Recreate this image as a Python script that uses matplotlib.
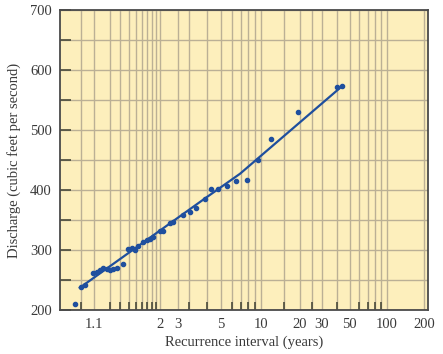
import matplotlib
matplotlib.use('Agg')
import matplotlib.pyplot as plt
import numpy as np

# recurrence interval (years) and discharge (cfs)
interval = [1.034, 1.051, 1.062, 1.096, 1.114, 1.133, 1.154, 1.178, 1.203, 1.231,
            1.266, 1.333, 1.394, 1.440, 1.489, 1.540, 1.626, 1.690, 1.757, 1.830,
            1.990, 2.079, 2.275, 2.380, 2.750, 3.040, 3.339, 3.848, 4.216, 4.778,
            5.497, 6.440, 7.747, 9.506, 11.90, 19.48, 39.5, 43.3]
discharge = [210, 238, 242, 261, 264, 267, 270, 268, 267, 268,
             270, 277, 301, 303, 300, 306, 314, 317, 318, 322,
             331, 332, 345, 346, 358, 364, 370, 385, 401, 402,
             407, 415, 416, 450, 485, 530, 571, 573]

# hand-drawn best fit line
fit_interval = [1.046, 3.848, 6.90, 43.5]
fit_discharge = [237, 386, 427, 573]

grid_intervals = [1.05, 1.1, 1.2, 1.3, 1.4, 1.5, 1.6, 1.7, 1.8, 1.9, 2, 3, 4, 5, 6, 7, 8, 9,
                  10, 15, 20, 25, 30, 40, 50, 60, 70, 80, 90, 100, 200]
label_pos = [1.1, 2, 2.55, 5, 10, 20, 30, 50, 100, 200]
label_txt = ['1.1', '2', '3', '5', '10', '20', '30', '50', '100', '200']


# Gumbel probability paper: reduced variate of the recurrence interval
def fwd(t):
    t = np.clip(np.asarray(t, dtype=float), 1.0001, None)
    return -np.log(-np.log(1 - 1 / t))


def inv(y):
    y = np.asarray(y, dtype=float)
    return 1 / (1 - np.exp(-np.exp(-y)))


plt.rcParams['font.family'] = ['Liberation Serif', 'DejaVu Serif']

fig = plt.figure(figsize=(4.43, 3.54), dpi=100)
ax = fig.add_axes([0.1354, 0.1243, 0.8301, 0.8475])
ax.set_facecolor('#fdefbc')
ax.set_xscale('function', functions=(fwd, inv))
ax.set_xlim(1.011, 213.7)
ax.set_ylim(200, 700)

ax.set_xticks(grid_intervals, minor=True)
ax.set_xticks(label_pos)
ax.set_xticklabels(label_txt)
ax.set_xticklabels([], minor=True)
ax.set_yticks(range(200, 701, 100))
ax.set_yticks(range(250, 700, 100), minor=True)

ax.grid(True, which='both', color='#bbb095', linewidth=1.0)
ax.set_axisbelow(True)

ax.tick_params(axis='x', which='major', length=0, pad=6, labelsize=10.5, colors='#3a3a3a')
ax.tick_params(axis='x', which='minor', direction='in', length=6, width=1.2, color='#4a4a3a')
ax.tick_params(axis='y', which='both', direction='in', length=8, width=1.2, color='#4a4a3a',
               labelsize=10.5, labelcolor='#3a3a3a', pad=6)
for s in ax.spines.values():
    s.set_color('#4a4a4a')
    s.set_linewidth(1.3)

ax.plot(fit_interval, fit_discharge, '-', color='#1f4f9e', lw=1.6, zorder=3)
ax.plot(interval, discharge, 'o', color='#1f4f9e', ms=3.0, zorder=4)

ax.set_xlabel('Recurrence interval (years)', fontsize=10.5, color='#3a3a3a', labelpad=3)
ax.set_ylabel('Discharge (cubic feet per second)', fontsize=10.5, color='#3a3a3a', labelpad=6)

plt.savefig('out.png', dpi=100)
